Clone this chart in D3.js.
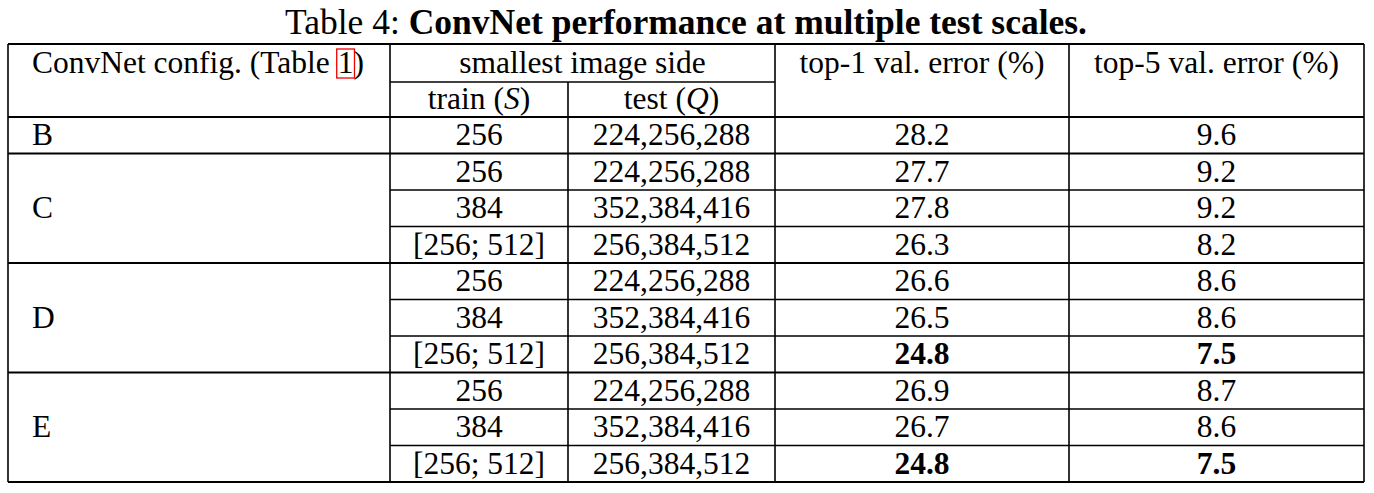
<!DOCTYPE html>
<html><head><meta charset="utf-8">
<script src="https://cdn.jsdelivr.net/npm/d3@7"></script>
<style>body{margin:0;background:#fff}text{font-family:"Liberation Serif",serif;fill:#000}</style>
</head><body><svg id="c" width="1374" height="493"></svg>
<script>
// table data
var configs = ['B','C','C','C','D','D','D','E','E','E']
var trainScales = ['256','256','384','[256; 512]','256','384','[256; 512]','256','384','[256; 512]']
var testScales = ['224,256,288','224,256,288','352,384,416','256,384,512','224,256,288','352,384,416','256,384,512','224,256,288','352,384,416','256,384,512']
var top1 = [28.2,27.7,27.8,26.3,26.6,26.5,24.8,26.9,26.7,24.8]
var top5 = [9.6,9.2,9.2,8.2,8.6,8.6,7.5,8.7,8.6,7.5]
var boldRows = [6,9]

var svg = d3.select('#c')
var colX = [8,390,568,775,1069,1364]
var y = d3.scaleLinear().domain([0,10]).range([117,482])
var rowH = y(1)-y(0)
var fs = '31.5px'

svg.append('text').attr('x',686).attr('y',34).attr('text-anchor','middle').style('font-size','35.5px')
    .html('Table 4: <tspan font-weight="bold">ConvNet performance at multiple test scales.</tspan>')

function line(x1,y1,x2,y2,w){
    svg.append('line').attr('x1',x1).attr('y1',y1).attr('x2',x2).attr('y2',y2)
        .attr('stroke','#000').attr('stroke-width',w||1.6)
}
// outer / header lines
line(colX[0],44,colX[5],44,2)
line(colX[1],82,colX[3],82)
line(colX[0],y(0),colX[5],y(0),2.2)
colX.forEach((x,i) => {
    var top = (i==2) ? 82 : 44
    line(x,top,x,y(10),1.6)
})
// row lines
d3.range(1,11).forEach(i => {
    var group = i==10 || configs[i] != configs[i-1]
    line(group ? colX[0] : colX[1], y(i), colX[5], y(i), group ? 2.2 : 1.6)
})

function cell(txt,x,yy,anchor,bold){
    return svg.append('text').attr('x',x).attr('y',yy).attr('text-anchor',anchor||'middle')
        .style('font-size',fs).style('font-weight',bold?'bold':'normal').text(txt)
}
// header
var hdr = cell('ConvNet config. (Table 1)',32,73,'start')
var node = hdr.node(), s = node.textContent, k = s.indexOf('1)')
var x0 = 32 + node.getSubStringLength(0,k), w1 = node.getSubStringLength(k,1)
svg.append('rect').attr('x',x0-1).attr('y',49).attr('width',w1+2).attr('height',29)
    .attr('fill','none').attr('stroke','#e00').attr('stroke-width',1.3)
cell('smallest image side',(colX[1]+colX[3])/2,73)
svg.append('text').attr('x',(colX[1]+colX[2])/2).attr('y',109).attr('text-anchor','middle').style('font-size',fs)
    .html('train (<tspan font-style="italic">S</tspan>)')
svg.append('text').attr('x',(colX[2]+colX[3])/2).attr('y',109).attr('text-anchor','middle').style('font-size',fs)
    .html('test (<tspan font-style="italic">Q</tspan>)')
cell('top-1 val. error (%)',(colX[3]+colX[4])/2,73)
cell('top-5 val. error (%)',(colX[4]+colX[5])/2,73)

// body
configs.forEach((c,i) => {
    var by = y(i)+rowH/2+10
    if (i==0 || c != configs[i-1]){
        var n = configs.filter(d => d==c).length
        cell(c,32,y(i)+n*rowH/2+10,'start')
    }
    cell(trainScales[i],(colX[1]+colX[2])/2,by)
    cell(testScales[i],(colX[2]+colX[3])/2,by)
    var b = boldRows.includes(i)
    cell(top1[i].toFixed(1),(colX[3]+colX[4])/2,by,'middle',b)
    cell(top5[i].toFixed(1),(colX[4]+colX[5])/2,by,'middle',b)
})
</script></body></html>
